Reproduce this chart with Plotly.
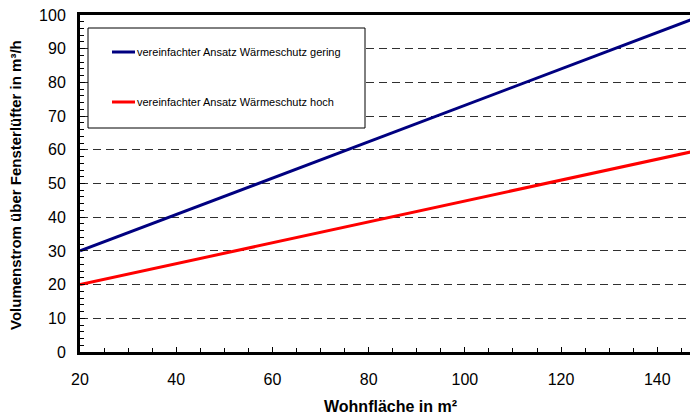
import plotly.graph_objects as go

# Data
wohnflaeche = [20, 40, 60, 80, 100, 120, 140, 150]
waermeschutz_gering = [30.0, 40.8, 51.6, 62.4, 73.2, 84.0, 94.8, 100.2]
waermeschutz_hoch = [20.0, 26.2, 32.4, 38.6, 44.8, 51.0, 57.2, 60.3]
series_names = ["vereinfachter Ansatz Wärmeschutz gering",
                "vereinfachter Ansatz Wärmeschutz hoch"]
series_colors = ["#000080", "#FF0000"]
x_ticks = [20, 40, 60, 80, 100, 120, 140]
y_ticks = [0, 10, 20, 30, 40, 50, 60, 70, 80, 90, 100]
x_title = "Wohnfläche in m²"
y_title = "Volumenstrom über Fensterlüfter in m³/h"

W, H = 690, 415
ML, MR, MT, MB = 80, 0, 15, 63
PW, PH = W - ML - MR, H - MT - MB

def px_x(p):
    return (p - ML) / PW

def px_y(p):
    return (H - MB - p) / PH

fig = go.Figure()
for vals, name, col in zip([waermeschutz_gering, waermeschutz_hoch], series_names, series_colors):
    fig.add_trace(go.Scatter(x=wohnflaeche, y=vals, mode="lines", name=name,
                             line=dict(color=col, width=3), showlegend=False))

font = "Liberation Sans, Arial, sans-serif"

# manual legend
shapes = [dict(type="rect", xref="paper", yref="paper",
               x0=px_x(88), x1=px_x(365), y0=px_y(128), y1=px_y(28),
               line=dict(color="black", width=1), fillcolor="white", layer="above")]
annotations = []
for i, (name, col) in enumerate(zip(series_names, series_colors)):
    yy = px_y(52 + 50 * i)
    shapes.append(dict(type="line", xref="paper", yref="paper",
                       x0=px_x(112), x1=px_x(135), y0=yy, y1=yy,
                       line=dict(color=col, width=3), layer="above"))
    annotations.append(dict(xref="paper", yref="paper", x=px_x(135), y=yy,
                            text=name, showarrow=False, xanchor="left", yanchor="middle",
                            font=dict(family=font, size=11, color="black")))

# axis titles
annotations.append(dict(xref="paper", yref="paper", x=px_x(390), y=px_y(406),
                        text="<b>" + x_title + "</b>", showarrow=False,
                        xanchor="center", yanchor="middle",
                        font=dict(family=font, size=16, color="black")))
annotations.append(dict(xref="paper", yref="paper", x=px_x(15), y=px_y(185),
                        text="<b>" + y_title + "</b>", showarrow=False, textangle=-90,
                        xanchor="center", yanchor="middle",
                        font=dict(family=font, size=15, color="black")))

fig.update_layout(
    width=W, height=H,
    margin=dict(l=ML, r=MR, t=MT, b=MB, pad=0, autoexpand=False),
    paper_bgcolor="white", plot_bgcolor="white",
    font=dict(family=font, color="black"),
    shapes=shapes, annotations=annotations,
    showlegend=False, hovermode=False,
)
fig.update_xaxes(
    range=[20, 146.8], tickvals=x_ticks, ticktext=[str(v) for v in x_ticks],
    showgrid=False, zeroline=False, automargin=False,
    showline=True, linecolor="black", linewidth=3, mirror=True,
    ticks="inside", ticklen=5, tickwidth=1, tickcolor="black",
    minor=dict(dtick=5, ticks="inside", ticklen=4, tickcolor="black", showgrid=False),
    tickfont=dict(size=16, family=font), ticklabelstandoff=11,
)
fig.update_yaxes(
    range=[0, 100], tickvals=y_ticks, ticktext=[str(v) for v in y_ticks],
    showgrid=True, gridcolor="#303030", gridwidth=1, griddash="8px,5px",
    zeroline=False, automargin=False,
    showline=True, linecolor="black", linewidth=3,
    ticks="inside", ticklen=5, tickwidth=1, tickcolor="black",
    minor=dict(dtick=2, ticks="inside", ticklen=4, tickcolor="black", showgrid=False),
    tickfont=dict(size=16, family=font), ticklabelstandoff=8,
)

fig.write_html("out.html", config={"displayModeBar": False},
               post_script="document.body.style.margin='0';document.body.style.overflow='hidden';")
